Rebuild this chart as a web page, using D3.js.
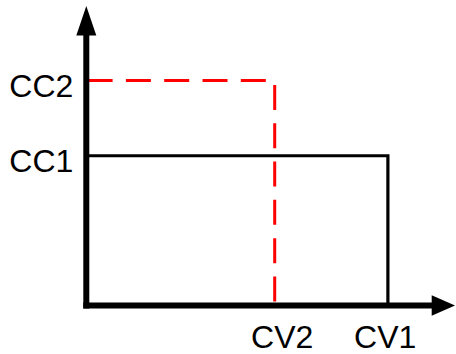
<!DOCTYPE html>
<html>
<head>
<meta charset="utf-8">
<script src="https://cdn.jsdelivr.net/npm/d3@7"></script>
<style>
html,body{margin:0;padding:0;background:#fff;}
svg{display:block;}
text{font-family:"Liberation Sans",Arial,sans-serif;font-size:32px;fill:#000;}
</style>
</head>
<body>
<script>
// Data
const xLabels = ["CV2", "CV1"];
const xValues = [0.511, 0.818];
const yLabels = ["CC2", "CC1"];
const yValues = [0.751, 0.5];
// curve 1 (black solid): CC1 / CV1 ; curve 2 (red dashed): CC2 / CV2
const series = [
  {name: "1", cc: 0.5, cv: 0.818, color: "#000", dash: null, width: 3.2},
  {name: "2", cc: 0.751, cv: 0.511, color: "#ff0000", dash: "25,13.3", width: 3}
];

const W = 456, H = 354;
const x = d3.scaleLinear().domain([0, 1]).range([86.3, 455]);
const y = d3.scaleLinear().domain([0, 1]).range([305.5, 6]);

const svg = d3.select("body").append("svg").attr("width", W).attr("height", H);

// series lines
series.forEach(s => {
  const p = d3.path();
  p.moveTo(x(0), y(s.cc));
  p.lineTo(x(s.cv), y(s.cc));
  p.lineTo(x(s.cv), y(0));
  svg.append("path")
    .attr("d", p.toString())
    .attr("fill", "none")
    .attr("stroke", s.color)
    .attr("stroke-width", s.width)
    .attr("stroke-dasharray", s.dash)
    .attr("stroke-dashoffset", s.dash ? -1.3 : null);
});

// axes
const AW = 6;
svg.append("line")
  .attr("x1", x(0)).attr("x2", x(0))
  .attr("y1", y(0) + AW / 2).attr("y2", 34)
  .attr("stroke", "#000").attr("stroke-width", AW);
svg.append("line")
  .attr("x1", x(0) - AW / 2).attr("x2", 433)
  .attr("y1", y(0)).attr("y2", y(0))
  .attr("stroke", "#000").attr("stroke-width", AW);
// arrowheads
svg.append("path")
  .attr("d", `M${x(0)},${y(1)}L${x(0) - 10},35.5L${x(0) + 10},35.5Z`)
  .attr("fill", "#000");
svg.append("path")
  .attr("d", `M${x(1)},${y(0)}L431.7,${y(0) - 10.3}L431.7,${y(0) + 10.3}Z`)
  .attr("fill", "#000");

// tick labels
const xLabelDx = [7.5, -2.7];
svg.selectAll(".xl").data(xLabels).enter().append("text")
  .attr("x", (d, i) => x(xValues[i]) + xLabelDx[i])
  .attr("y", 347.8)
  .attr("text-anchor", "middle")
  .text(d => d);
svg.selectAll(".yl").data(yLabels).enter().append("text")
  .attr("x", x(0) - 13)
  .attr("y", (d, i) => y(yValues[i]) + 16.5)
  .attr("text-anchor", "end")
  .text(d => d);
</script>
</body>
</html>
